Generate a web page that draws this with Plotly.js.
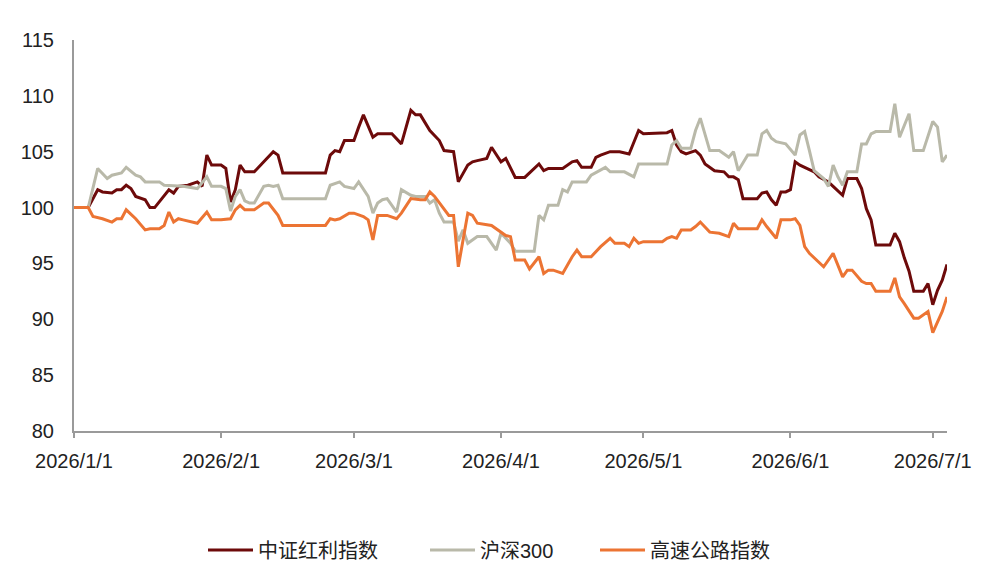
<!DOCTYPE html>
<html><head><meta charset="utf-8">
<script src="https://cdn.plot.ly/plotly-3.0.1.min.js"></script>
<style>html,body{margin:0;padding:0;background:#fff;} #chart{width:993px;height:585px;}</style>
</head><body><div id="chart"></div>
<script>
const seriesNames = ['中证红利指数', '沪深300', '高速公路指数'];
const seriesColors = ['#6d0a0a', '#b9b9a9', '#ec7433'];

const tickDates = ['2026-01-01','2026-02-01','2026-03-01','2026-04-01','2026-05-01','2026-06-01','2026-07-01'];
const tickLabels = ['2026/1/1','2026/2/1','2026/3/1','2026/4/1','2026/5/1','2026/6/1','2026/7/1'];

const hlDates = ['2026-01-01','2026-01-04','2026-01-06','2026-01-07','2026-01-09','2026-01-10','2026-01-11','2026-01-12','2026-01-13','2026-01-14','2026-01-16','2026-01-17','2026-01-18','2026-01-19','2026-01-21','2026-01-22','2026-01-23','2026-01-25','2026-01-27','2026-01-28','2026-01-29','2026-01-30','2026-02-01','2026-02-02','2026-02-03','2026-02-04','2026-02-05','2026-02-06','2026-02-08','2026-02-10','2026-02-12','2026-02-13','2026-02-14','2026-02-23','2026-02-24','2026-02-25','2026-02-26','2026-02-27','2026-03-01','2026-03-02','2026-03-03','2026-03-05','2026-03-06','2026-03-09','2026-03-11','2026-03-13','2026-03-14','2026-03-15','2026-03-17','2026-03-19','2026-03-20','2026-03-22','2026-03-23','2026-03-25','2026-03-26','2026-03-27','2026-03-29','2026-03-30','2026-04-01','2026-04-02','2026-04-04','2026-04-06','2026-04-09','2026-04-10','2026-04-11','2026-04-14','2026-04-16','2026-04-17','2026-04-18','2026-04-20','2026-04-21','2026-04-22','2026-04-24','2026-04-26','2026-04-28','2026-04-30','2026-05-01','2026-05-06','2026-05-07','2026-05-08','2026-05-09','2026-05-10','2026-05-12','2026-05-13','2026-05-14','2026-05-16','2026-05-18','2026-05-19','2026-05-20','2026-05-21','2026-05-22','2026-05-25','2026-05-26','2026-05-27','2026-05-28','2026-05-29','2026-05-30','2026-05-31','2026-06-01','2026-06-02','2026-06-03','2026-06-05','2026-06-06','2026-06-07','2026-06-09','2026-06-10','2026-06-12','2026-06-13','2026-06-15','2026-06-16','2026-06-17','2026-06-18','2026-06-19','2026-06-22','2026-06-23','2026-06-24','2026-06-25','2026-06-26','2026-06-27','2026-06-29','2026-06-30','2026-07-01','2026-07-02','2026-07-03','2026-07-04'];
const hlValues = [100,100,101.6,101.4,101.3,101.6,101.6,102.0,101.7,101.0,100.7,100.0,100.0,100.5,101.6,101.3,101.9,102.0,102.3,101.9,104.7,103.8,103.8,103.5,100.5,101.6,103.8,103.2,103.2,104.1,105.0,104.7,103.1,103.1,104.7,105.1,105.0,106.0,106.0,107.2,108.3,106.3,106.6,106.6,105.7,108.7,108.3,108.3,106.9,106.0,105.1,105.0,102.3,103.8,104.1,104.2,104.4,105.4,104.1,104.4,102.7,102.7,103.9,103.3,103.5,103.5,104.1,104.2,103.6,103.6,104.5,104.7,105.0,105.0,104.8,106.9,106.6,106.7,106.9,105.6,105.0,104.8,105.1,104.7,103.9,103.3,103.2,102.75,102.75,102.5,100.8,100.8,101.3,101.4,100.7,100.2,101.4,101.4,101.6,104.1,103.8,103.4,103.2,102.75,102.3,101.9,101.1,102.6,102.6,101.7,99.9,98.9,96.65,96.65,97.7,96.95,95.5,94.3,92.5,92.5,93.2,91.3,92.6,93.5,94.9];

const hsDates = ['2026-01-01','2026-01-04','2026-01-06','2026-01-08','2026-01-09','2026-01-11','2026-01-12','2026-01-14','2026-01-15','2026-01-16','2026-01-19','2026-01-20','2026-01-24','2026-01-27','2026-01-29','2026-01-30','2026-02-01','2026-02-02','2026-02-03','2026-02-04','2026-02-05','2026-02-06','2026-02-07','2026-02-08','2026-02-10','2026-02-11','2026-02-12','2026-02-13','2026-02-14','2026-02-23','2026-02-24','2026-02-26','2026-02-27','2026-03-01','2026-03-02','2026-03-04','2026-03-05','2026-03-06','2026-03-07','2026-03-08','2026-03-10','2026-03-11','2026-03-13','2026-03-14','2026-03-16','2026-03-17','2026-03-18','2026-03-19','2026-03-20','2026-03-22','2026-03-23','2026-03-24','2026-03-25','2026-03-27','2026-03-29','2026-03-31','2026-04-01','2026-04-03','2026-04-04','2026-04-08','2026-04-09','2026-04-10','2026-04-11','2026-04-13','2026-04-14','2026-04-15','2026-04-16','2026-04-19','2026-04-20','2026-04-23','2026-04-24','2026-04-27','2026-04-29','2026-04-30','2026-05-06','2026-05-07','2026-05-08','2026-05-09','2026-05-11','2026-05-12','2026-05-13','2026-05-14','2026-05-15','2026-05-17','2026-05-19','2026-05-20','2026-05-21','2026-05-23','2026-05-25','2026-05-26','2026-05-27','2026-05-28','2026-05-29','2026-05-31','2026-06-02','2026-06-03','2026-06-04','2026-06-05','2026-06-06','2026-06-08','2026-06-09','2026-06-10','2026-06-11','2026-06-12','2026-06-13','2026-06-15','2026-06-16','2026-06-17','2026-06-18','2026-06-19','2026-06-22','2026-06-23','2026-06-24','2026-06-26','2026-06-27','2026-06-29','2026-07-01','2026-07-02','2026-07-03','2026-07-04'];
const hsValues = [100,100,103.5,102.6,102.9,103.1,103.6,102.9,102.75,102.3,102.3,102.0,101.9,101.7,102.75,101.9,101.9,101.7,99.7,101.0,101.6,100.6,100.4,100.4,101.9,102.0,101.9,102.0,100.8,100.8,102.0,102.3,101.9,101.7,102.3,101.0,99.5,100.4,100.7,100.8,99.6,101.6,101.1,101.0,101.0,100.4,100.7,99.5,98.7,98.7,97.0,98.0,96.8,97.4,97.4,96.2,97.7,96.8,96.1,96.1,99.3,98.9,100.2,100.2,101.6,101.4,102.3,102.3,102.9,103.6,103.2,103.2,102.75,103.9,103.9,105.6,106.0,105.3,105.3,106.9,108.0,106.6,105.1,105.1,104.5,105.0,103.3,104.7,104.7,106.6,106.9,106.2,105.9,105.7,104.7,106.5,106.8,105.1,103.3,102.6,101.9,103.8,102.75,102.0,103.2,103.2,105.7,105.7,106.6,106.8,106.8,109.3,106.3,108.4,105.1,105.1,107.7,107.2,104.1,104.7];

const glDates = ['2026-01-01','2026-01-04','2026-01-05','2026-01-07','2026-01-09','2026-01-10','2026-01-11','2026-01-12','2026-01-14','2026-01-16','2026-01-17','2026-01-19','2026-01-20','2026-01-21','2026-01-22','2026-01-23','2026-01-24','2026-01-26','2026-01-27','2026-01-29','2026-01-30','2026-02-01','2026-02-03','2026-02-04','2026-02-05','2026-02-06','2026-02-08','2026-02-10','2026-02-11','2026-02-13','2026-02-14','2026-02-23','2026-02-24','2026-02-25','2026-02-26','2026-02-28','2026-03-01','2026-03-03','2026-03-04','2026-03-05','2026-03-06','2026-03-08','2026-03-10','2026-03-11','2026-03-13','2026-03-15','2026-03-16','2026-03-17','2026-03-18','2026-03-21','2026-03-22','2026-03-23','2026-03-25','2026-03-26','2026-03-27','2026-03-30','2026-03-31','2026-04-02','2026-04-03','2026-04-04','2026-04-06','2026-04-07','2026-04-09','2026-04-10','2026-04-11','2026-04-12','2026-04-14','2026-04-16','2026-04-17','2026-04-18','2026-04-20','2026-04-22','2026-04-24','2026-04-25','2026-04-27','2026-04-28','2026-04-29','2026-04-30','2026-05-01','2026-05-05','2026-05-06','2026-05-07','2026-05-08','2026-05-09','2026-05-11','2026-05-12','2026-05-13','2026-05-15','2026-05-17','2026-05-19','2026-05-20','2026-05-21','2026-05-25','2026-05-26','2026-05-27','2026-05-29','2026-05-30','2026-06-01','2026-06-02','2026-06-03','2026-06-04','2026-06-05','2026-06-08','2026-06-10','2026-06-12','2026-06-13','2026-06-14','2026-06-16','2026-06-17','2026-06-18','2026-06-19','2026-06-22','2026-06-23','2026-06-24','2026-06-25','2026-06-27','2026-06-28','2026-06-30','2026-07-01','2026-07-03','2026-07-04'];
const glValues = [100,100,99.2,99.0,98.7,99.0,99.0,99.8,99.0,98.0,98.1,98.1,98.4,99.6,98.7,99.0,98.9,98.7,98.6,99.6,98.9,98.9,99.0,99.8,100.2,99.8,99.8,100.4,100.4,99.3,98.4,98.4,99.0,98.9,99.0,99.5,99.5,99.2,98.9,97.1,99.3,99.3,99.0,99.5,100.8,100.7,100.7,101.4,101.0,99.3,99.3,94.7,99.5,99.3,98.6,98.4,98.1,97.5,97.4,95.3,95.3,94.5,95.6,94.1,94.4,94.4,94.1,95.6,96.2,95.6,95.6,96.5,97.25,96.8,96.8,96.5,97.25,96.8,96.95,96.95,97.25,97.4,97.25,98.0,98.0,98.3,98.7,97.8,97.7,97.4,98.6,98.1,98.1,98.9,98.3,97.25,98.9,98.9,99.0,98.4,96.5,95.9,94.7,95.9,93.8,94.4,94.4,93.4,93.2,93.2,92.5,92.5,93.7,92.0,91.4,90.1,90.1,90.7,88.8,90.7,92.0];

const FONT = 'Liberation Sans, Arial, Noto Sans CJK SC, sans-serif';
const xs = [hlDates, hsDates, glDates];
const ys = [hlValues, hsValues, glValues];
const legendIds = ['legend', 'legend2', 'legend3'];

const traces = seriesNames.map((name, i) => ({
  type: 'scatter', mode: 'lines', name: name,
  x: xs[i], y: ys[i],
  line: {color: seriesColors[i], width: 3},
  legend: legendIds[i],
  hoverinfo: 'skip'
}));

function legendAt(px) {
  return {
    orientation: 'h', xref: 'container', yref: 'container',
    x: px / 993, xanchor: 'left', y: 1 - 550 / 585, yanchor: 'middle',
    font: {family: FONT, size: 20, color: '#222'},
    bgcolor: 'rgba(0,0,0,0)', itemwidth: 45
  };
}

const layout = {
  width: 993, height: 585,
  margin: {l: 74, r: 46, t: 40, b: 154},
  paper_bgcolor: '#fff', plot_bgcolor: '#fff',
  font: {family: FONT, size: 20, color: '#222'},
  showlegend: true,
  legend: legendAt(203),
  legend2: legendAt(425),
  legend3: legendAt(595),
  xaxis: {
    type: 'date', range: ['2026-01-01', '2026-07-04'],
    tickmode: 'array', tickvals: tickDates, ticktext: tickLabels,
    showgrid: false, zeroline: false,
    showline: true, linecolor: '#9a9a9a', linewidth: 2,
    ticks: 'outside', ticklen: 5, tickwidth: 2, tickcolor: '#9a9a9a',
    ticklabelstandoff: 6,
    tickfont: {family: FONT, size: 20, color: '#222'}
  },
  yaxis: {
    range: [80, 115], dtick: 5, tick0: 80,
    showgrid: false, zeroline: false,
    showline: true, linecolor: '#9a9a9a', linewidth: 2,
    ticks: '', ticklabelstandoff: 14,
    tickfont: {family: FONT, size: 20, color: '#222'}
  }
};

Plotly.newPlot('chart', traces, layout, {staticPlot: true, displayModeBar: false});
</script>
</body></html>
